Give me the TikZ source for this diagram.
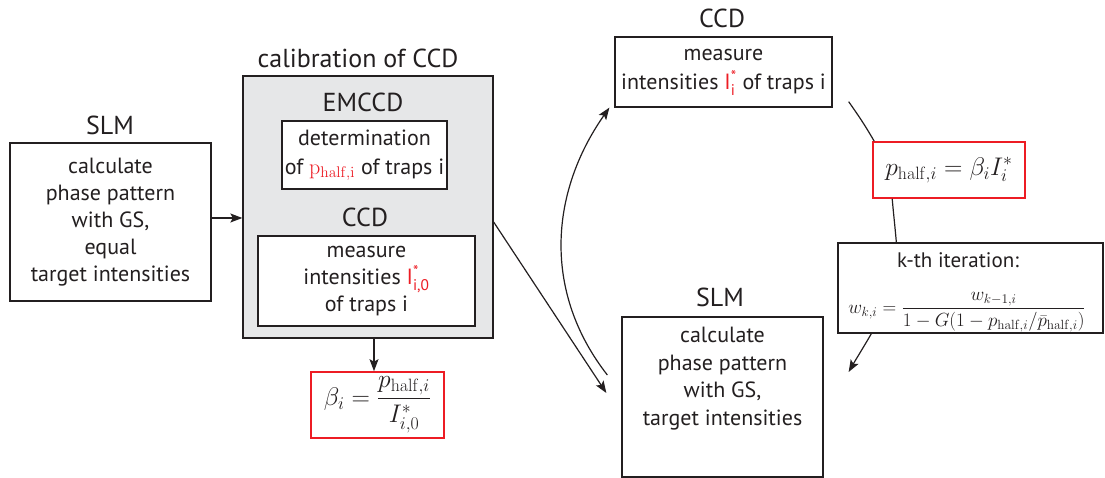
\documentclass[tikz,border=0pt]{standalone}
\usepackage{fix-cm}
\usepackage{amsmath}
\usepackage[no-math]{fontspec}
\setmainfont{PT Sans}
\usetikzlibrary{arrows.meta}
\definecolor{ink}{HTML}{231F20}
\definecolor{redc}{HTML}{ED1C24}
\definecolor{grayfill}{HTML}{E6E7E8}
\begin{document}
\begin{tikzpicture}[x=1pt,y=1pt,
  box/.style={draw=ink, line width=1.3pt, fill=white, inner sep=0pt, text=ink,
    align=center, font=\fontsize{22}{27}\selectfont},
  redbox/.style={draw=redc, line width=1.6pt, fill=white, inner sep=0pt, text=ink,
    font=\fontsize{25.5}{28}\selectfont},
  graybox/.style={draw=ink, line width=1.3pt, fill=grayfill, inner sep=0pt},
  title/.style={text=ink, inner sep=0pt, font=\fontsize{26}{30}\selectfont},
  body/.style={text=ink, inner sep=0pt, align=center, font=\fontsize{22}{27.5}\selectfont},
  conn/.style={draw=ink, line width=1.2pt},
  arr/.style={conn, -{Stealth[length=12pt,width=9pt,inset=2.5pt]}}]
\useasboundingbox (0,0) rectangle (1105,478);

% left SLM
\node[title] (slm1t) at (110,353) {SLM};
\node[box, minimum width=201, minimum height=158] (slm1) at (110.5,256)
  {calculate\\phase pattern\\with GS,\\equal\\target intensities};

% calibration
\node[title] (calt) at (358,420) {calibration of CCD};
\node[graybox, minimum width=250, minimum height=262] (gray) at (368,271) {};
\node[title] (emt) at (363,376) {EMCCD};
\node[box, minimum width=165, minimum height=68, font=\fontsize{22}{29}\selectfont] (det) at (364.5,323)
  {determination\\of \textcolor{redc}{$\mathrm{p}_{\mathrm{half,i}}$} of traps i};
\node[title] (ccdt) at (365,261) {CCD};
\node[box, minimum width=217, minimum height=90] (meas) at (366.5,197)
  {measure\\intensities \textcolor{redc}{I$^{\text{*}}_{\text{i,0}}$}\\of traps i};

\node[redbox, minimum width=133, minimum height=66] (beta) at (377.5,73)
  {$\beta_i = \dfrac{p_{\mathrm{half},i}}{I^*_{i,0}}$};

% top CCD
\node[title] (ccd2t) at (722,460) {CCD};
\node[box, minimum width=217, minimum height=70, font=\fontsize{22}{29}\selectfont] (ccd2) at (723.5,406)
  {measure\\intensities \textcolor{redc}{I$^{\text{*}}_{\text{i}}$} of traps i};

% p box
\node[redbox, minimum width=152, minimum height=56] (pbox) at (949,308)
  {$p_{\mathrm{half},i} = \beta_i I_i^*$};

% k-th iteration
\node[box, minimum width=265, minimum height=90] (kth) at (970.5,190) {};
\node[title, font=\fontsize{21}{25}\selectfont] (ktht) at (958,218) {k-th iteration:};
\node[text=ink, inner sep=0pt, font=\fontsize{19}{22}\selectfont] (kthf) at (967,166)
  {$w_{k,i} = \dfrac{w_{k-1,i}}{1-G(1-p_{\mathrm{half},i}/\bar{p}_{\mathrm{half},i})}$};

% right SLM
\node[title] (slm2t) at (720,181) {SLM};
\node[box, minimum width=201, minimum height=160] (slm2) at (722.5,81) {};
\node[body] (slm2x) at (722.5,99.5)
  {calculate\\phase pattern\\with GS,\\target intensities};

% connectors
\coordinate (a1) at ([yshift=4pt]slm1.east);
\draw[arr] (a1) -- (a1 -| gray.west);
\coordinate (b1) at ([xshift=-3.5pt]beta.north);
\draw[arr] (b1 |- gray.south) -- (b1);
\draw[arr] ([yshift=-15pt]gray.east) -- ([shift={(-15pt,4pt)}]slm2.west);
\draw[arr] ([shift={(-14pt,22pt)}]slm2.west) to[out=128,in=235] ([xshift=-5pt]ccd2.south west);
\draw[conn] ([shift={(16pt,6pt)}]ccd2.south east) to[out=-55,in=120] ([xshift=2pt]pbox.north west);
\draw[conn] ([xshift=20pt]pbox.south west) to[out=-85,in=95] ([xshift=59pt]kth.north west);
\draw[arr] ([xshift=34pt]kth.south west) to[out=-120,in=60] ([shift={(25pt,25pt)}]slm2.east);
\end{tikzpicture}
\end{document}
